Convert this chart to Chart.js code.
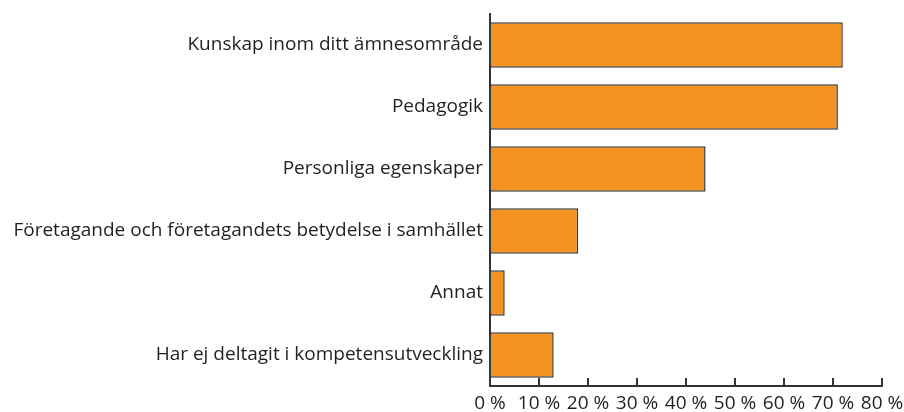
<!DOCTYPE html>
<html>
<head>
<meta charset="utf-8">
<script src="https://cdn.jsdelivr.net/npm/chart.js@4/dist/chart.umd.min.js"></script>
<style>
    html, body { margin: 0; padding: 0; background: #fff; }
    #wrap { width: 904px; height: 412px; }
</style>
</head>
<body>
<div id="wrap"><canvas id="barChart" width="904" height="412"></canvas></div>
<script>
// Data
const categories = [
    'Kunskap inom ditt ämnesområde',
    'Pedagogik',
    'Personliga egenskaper',
    'Företagande och företagandets betydelse i samhället',
    'Annat',
    'Har ej deltagit i kompetensutveckling'
];
const shares = [72, 71, 44, 18, 3, 13];
const xTicks = [0, 10, 20, 30, 40, 50, 60, 70, 80];

const inkColor = '#231f20';
const axisColor = '#333333';

// small upward tick marks on the bottom axis
const innerTicks = {
    id: 'innerTicks',
    afterDraw(chart) {
        const ctx = chart.ctx;
        const x = chart.scales.x;
        ctx.save();
        ctx.strokeStyle = axisColor;
        ctx.lineWidth = 2;
        xTicks.forEach(v => {
            const px = Math.round(x.getPixelForValue(v));
            ctx.beginPath();
            ctx.moveTo(px, x.top - 8);
            ctx.lineTo(px, x.top);
            ctx.stroke();
        });
        ctx.restore();
    }
};

const ctx = document.getElementById('barChart').getContext('2d');
new Chart(ctx, {
    type: 'bar',
    data: {
        labels: categories,
        datasets: [{
            data: shares,
            backgroundColor: '#f39321',
            borderColor: '#3a3a3a',
            borderWidth: 1.5,
            borderSkipped: false,
            barPercentage: 0.73,
            categoryPercentage: 1
        }]
    },
    options: {
        indexAxis: 'y',
        responsive: false,
        animation: false,
        layout: { padding: { top: 14, right: 22, left: 0, bottom: 0 } },
        plugins: {
            legend: { display: false },
            tooltip: { enabled: false }
        },
        scales: {
            y: {
                grid: { display: false, drawTicks: false },
                border: { display: true, color: axisColor, width: 2 },
                ticks: {
                    color: inkColor,
                    padding: 7,
                    font: { family: 'Open Sans', size: 19 }
                },
                afterFit(scale) {
                    scale.width = 490;
                    scale.paddingTop = 0;
                    scale.paddingBottom = 0;
                }
            },
            x: {
                min: 0,
                max: 80,
                grid: { display: false, drawTicks: false },
                border: { display: true, color: axisColor, width: 2 },
                afterBuildTicks(scale) { scale.ticks = xTicks.map(v => ({ value: v })); },
                ticks: {
                    color: inkColor,
                    padding: 6,
                    maxRotation: 0,
                    autoSkip: false,
                    font: { family: 'Open Sans', size: 19 },
                    callback: v => v + ' %'
                },
                afterFit(scale) {
                    scale.height = 26;
                    scale.paddingLeft = 0;
                    scale.paddingRight = 0;
                }
            }
        }
    },
    plugins: [innerTicks]
});
</script>
</body>
</html>
